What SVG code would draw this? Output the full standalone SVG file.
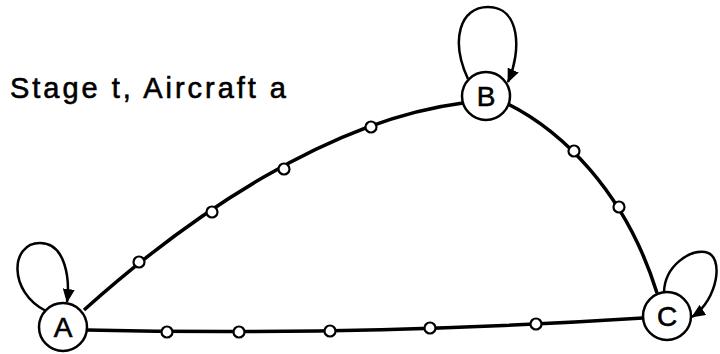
<svg xmlns="http://www.w3.org/2000/svg" width="720" height="354" viewBox="0 0 720 354">
<style>
.edge{fill:none;stroke:#000;stroke-width:3.5}
.loop{fill:none;stroke:#000;stroke-width:2.5}
.node circle{fill:#fff;stroke:#000;stroke-width:2.5}
.node text{font-family:"Liberation Sans",Arial,sans-serif;font-size:28px;text-anchor:middle;fill:#000;stroke:#000;stroke-width:0.6}
.dot{fill:#fff;stroke:#000;stroke-width:2.2}
.title{font-family:"Liberation Sans",Arial,sans-serif;font-size:29px;fill:#000;stroke:#000;stroke-width:0.6}
</style>
<defs>
<marker id="arr" viewBox="0 0 14 12" refX="13" refY="6" markerWidth="14" markerHeight="12" markerUnits="userSpaceOnUse" orient="auto">
<path d="M0,0 L14,6 L0,12 Z" fill="#000"/>
</marker>
</defs>
<text class="title" x="10" y="98" textLength="276" lengthAdjust="spacing">Stage t, Aircraft a</text>
<g id="connectors">
<path class="edge" d="M84,310 C190,215 330,120 463,103"/>
<path class="edge" d="M508,104 C560,130 625,190 657,293"/>
<path class="edge" d="M87,330 Q362,336 643,318"/>
<path class="loop" d="M46,311 C8,292 10,243 40,243 C66,243 70,280 67,302" marker-end="url(#arr)"/>
<path class="loop" d="M468,79 C450,40 460,7 488,7 C520,7 522,50 508,82" marker-end="url(#arr)"/>
<path class="loop" d="M664,292 C665,265 690,250 705,252 C725,255 718,300 692,317" marker-end="url(#arr)"/>
<circle class="dot" cx="139" cy="262" r="5.5"/>
<circle class="dot" cx="212" cy="212" r="5.5"/>
<circle class="dot" cx="284" cy="169" r="5.5"/>
<circle class="dot" cx="371" cy="127" r="5.5"/>
<circle class="dot" cx="574" cy="151" r="5.5"/>
<circle class="dot" cx="619" cy="207" r="5.5"/>
<circle class="dot" cx="167" cy="332" r="5.5"/>
<circle class="dot" cx="239" cy="332" r="5.5"/>
<circle class="dot" cx="330" cy="331" r="5.5"/>
<circle class="dot" cx="430" cy="328" r="5.5"/>
<circle class="dot" cx="536" cy="324" r="5.5"/>
</g>
<g id="node-A" class="node"><circle cx="63" cy="327" r="24"/><text x="63" y="337">A</text></g>
<g id="node-B" class="node"><circle cx="486" cy="96" r="24"/><text x="486" y="106">B</text></g>
<g id="node-C" class="node"><circle cx="667" cy="316" r="24"/><text x="667" y="326">C</text></g>
</svg>
